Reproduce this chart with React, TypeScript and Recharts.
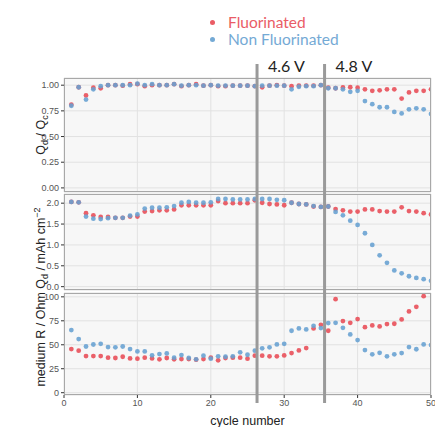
import React from "react";
import {
  ScatterChart,
  Scatter,
  XAxis,
  YAxis,
  CartesianGrid,
  ReferenceLine,
} from "recharts";

const CYCLES = [
  1, 2, 3, 4, 5, 6, 7, 8, 9, 10, 11, 12, 13, 14, 15, 16, 17, 18, 19, 20, 21, 22, 23, 24, 25,
  26, 27, 28, 29, 30, 31, 32, 33, 34, 35, 36, 37, 38, 39, 40, 41, 42, 43, 44, 45, 46, 47, 48, 49, 50,
];

// Qd / Qc
const EFF_FLUOR = [
  0.81, 0.98, 0.9, 0.975, 0.97, 1.0, 1.0, 0.995, 1.01, 1.01, 0.99, 1.0, 1.0, 1.0, 1.01, 0.99, 1.0, 1.01, 0.995, 1.0,
  0.99, 0.99, 0.995, 0.995, 0.995, 0.99, 0.98, 0.995, 1.0, 0.995, 0.99, 0.995, 0.995, 0.995, 1.0,
  0.975, 0.97, 0.978, 0.98, 0.975, 0.96, 0.945, 0.95, 0.96, 0.96, 0.87, 0.93, 0.945, 0.945, 0.96,
];
const EFF_NONFLUOR = [
  0.8, 0.98, 0.86, 0.96, 0.99, 1.0, 1.0, 1.0, 1.0, 1.015, 1.0, 1.01, 1.0, 1.0, 1.01, 0.995, 1.0, 1.0, 0.995, 1.0,
  0.995, 0.995, 0.995, 0.995, 0.995, 0.99, 0.995, 0.995, 0.995, 0.995, 0.96, 0.985, 0.99, 0.99, 1.0,
  0.97, 0.97, 0.96, 0.935, 0.945, 0.845, 0.815, 0.785, 0.785, 0.74, 0.725, 0.765, 0.775, 0.765, 0.72,
];

// Qd / mAh cm-2
const CAP_FLUOR = [
  2.03, 2.02, 1.76, 1.71, 1.67, 1.67, 1.65, 1.65, 1.68, 1.68, 1.8, 1.81, 1.83, 1.83, 1.85, 1.95, 1.95, 1.95, 1.95, 1.95,
  2.05, 2.0, 2.0, 2.0, 2.0, 2.07, 2.01, 1.98, 1.97, 1.95, 2.01, 1.98, 1.97, 1.92, 1.91,
  1.92, 1.86, 1.83, 1.8, 1.8, 1.85, 1.85, 1.81, 1.8, 1.8, 1.9, 1.81, 1.8, 1.76, 1.73,
];
const CAP_NONFLUOR = [
  2.03, 2.02, 1.68, 1.63, 1.62, 1.64, 1.65, 1.65, 1.7, 1.73, 1.87, 1.89, 1.89, 1.9, 1.93, 2.01, 2.03, 2.01, 2.01, 2.02,
  2.1, 2.1, 2.09, 2.09, 2.09, 2.1, 2.1, 2.1, 2.08, 2.07, 2.01, 1.98, 1.97, 1.93, 1.91,
  1.92, 1.79, 1.71, 1.58, 1.48, 1.28, 1.0, 0.75, 0.57, 0.39, 0.32, 0.25, 0.21, 0.18, 0.14,
];

// medium R / Ohm
const RES_FLUOR = [
  45.5, 43.8, 38.2, 38.2, 38.2, 36.5, 36.2, 37.5, 35.8, 35.5, 36.5, 35.8, 34.8, 36.2, 34.8, 35.1, 35.1, 34.5, 35.1, 36.5,
  33.8, 36.2, 36.5, 36.5, 35.5, 38.6, 38.6, 37.9, 37.9, 38.9, 41.3, 44.1, 46.5, 67, 70.8,
  64.6, 97.6, 74.7, 72.9, 76.8, 68.4, 70.2, 69.1, 71.6, 71.9, 76.4, 84.8, 89.6, 100.7, null,
];
const RES_NONFLUOR = [
  65.3, 55.9, 48.2, 50.3, 51, 47.6, 47.3, 48.2, 45.5, 43.1, 43.1, 39, 40.3, 41, 36.5, 39.2, 36.2, 34.8, 38.6, 35.5,
  37.9, 37.5, 37.9, 42.1, 39.6, 43.8, 46.3, 47.3, 50.4, 51, 64.6, 67, 66, 69.8, 67.4,
  72.6, 72.9, 67.7, 60.8, 54.9, 44.5, 40, 41.6, 37.9, 40, 41.3, 47.6, 45.3, 50.4, 49.7,
];

const X_TICKS = [0, 10, 20, 30, 40, 50];
const EFF_TICKS = [0, 0.25, 0.5, 0.75, 1];
const CAP_TICKS = [0, 0.5, 1, 1.5, 2];
const RES_TICKS = [0, 25, 50, 75, 100];

const VOLT_STEPS = [
  { cycle: 26.3, label: "4.6 V" },
  { cycle: 35.5, label: "4.8 V" },
];

const RED = "#e84b55";
const BLUE = "#66a1d1";
const FONT = "'Liberation Sans', Arial, sans-serif";
const PAD = 6; // room around each plot so edge tick labels are not clipped

const toPoints = (vals: (number | null)[]) =>
  CYCLES.map((c, i) => ({ x: c, y: vals[i] })).filter((p) => p.y !== null);

const makeDot = (color: string) => (props: any) =>
  <circle cx={props.cx} cy={props.cy} r={2.4} fill={color} fillOpacity={0.88} />;

const RedDot = makeDot(RED);
const BlueDot = makeDot(BLUE);
const NoDot = () => <g />;

interface PanelProps {
  top: number;
  plotHeight: number;
  domain: [number, number];
  ticks: number[];
  fmt: (v: number) => string;
  red: (number | null)[];
  blue: (number | null)[];
  showX?: boolean;
}

function Panel({ top, plotHeight, domain, ticks, fmt, red, blue, showX }: PanelProps) {
  const xHeight = showX ? 32 : 0;
  const bottom = showX ? 0 : PAD;
  return (
    <div style={{ position: "absolute", left: 0, top: top - PAD }}>
      <ScatterChart
        width={435}
        height={plotHeight + xHeight + PAD + bottom}
        margin={{ top: PAD, right: 4, bottom, left: 0 }}
      >
        <CartesianGrid fill="#f7f7f7" stroke="#e2e2e2" />
        <XAxis
          type="number"
          dataKey="x"
          domain={[0, 50]}
          ticks={X_TICKS}
          interval={0}
          allowDataOverflow
          hide={!showX}
          height={xHeight}
          axisLine={false}
          tickSize={3}
          tickMargin={2}
          tickLine={{ stroke: "#333" }}
          tick={{ fontSize: 9, fill: "#555", fontFamily: FONT }}
          label={{ value: "cycle number", position: "insideBottom", offset: 2, fontSize: 12.5, fill: "#222", fontFamily: FONT }}
        />
        <YAxis
          type="number"
          dataKey="y"
          domain={domain}
          ticks={ticks}
          interval={0}
          allowDataOverflow
          width={64}
          axisLine={false}
          tickSize={3}
          tickMargin={2}
          tickLine={{ stroke: "#333" }}
          tick={{ fontSize: 9, fill: "#555", fontFamily: FONT }}
          tickFormatter={fmt}
        />
        <Scatter data={toPoints(red)} shape={RedDot} isAnimationActive={false} />
        <Scatter data={toPoints(blue)} shape={BlueDot} isAnimationActive={false} />
      </ScatterChart>
      <div
        style={{
          position: "absolute",
          left: 64,
          top: PAD,
          width: 367,
          height: plotHeight,
          border: "1px solid #a8a8a8",
          boxSizing: "border-box",
          pointerEvents: "none",
        }}
      />
    </div>
  );
}

const VoltLabel = (props: any) => {
  const { viewBox, caption } = props;
  if (!viewBox) return null;
  return (
    <text x={viewBox.x + 11} y={viewBox.y + 8} fontSize={16} fill="#222" fontFamily="Lato, 'Open Sans', sans-serif">
      {caption}
    </text>
  );
};

export default function App() {
  return (
    <div style={{ position: "absolute", left: 0, top: 0, width: 435, height: 428, background: "#fff", overflow: "hidden" }}>
      {/* legend */}
      <div
        style={{
          position: "absolute",
          left: 205,
          top: 14,
          fontFamily: "Lato, 'Open Sans', sans-serif",
          fontSize: 15.5,
          lineHeight: "17px",
        }}
      >
        {[
          { name: "Fluorinated", color: RED },
          { name: "Non Fluorinated", color: BLUE },
        ].map((s) => (
          <div key={s.name} style={{ display: "flex", alignItems: "center", color: s.color, opacity: 0.9, height: 17 }}>
            <span
              style={{ display: "inline-block", width: 5, height: 5, borderRadius: 3, background: s.color, marginLeft: 5, marginRight: 13 }}
            />
            {s.name}
          </div>
        ))}
      </div>

      <Panel top={78} plotHeight={114} domain={[-0.04, 1.07]} ticks={EFF_TICKS} fmt={(v) => v.toFixed(2)} red={EFF_FLUOR} blue={EFF_NONFLUOR} />
      <Panel top={194} plotHeight={96} domain={[-0.08, 2.22]} ticks={CAP_TICKS} fmt={(v) => v.toFixed(1)} red={CAP_FLUOR} blue={CAP_NONFLUOR} />
      <Panel top={293} plotHeight={102} domain={[-2.4, 104]} ticks={RES_TICKS} fmt={(v) => String(v)} red={RES_FLUOR} blue={RES_NONFLUOR} showX />

      {/* voltage step lines spanning all panels; top margin leaves room for the labels */}
      <div style={{ position: "absolute", left: 0, top: 44 }}>
        <ScatterChart width={435} height={359} margin={{ top: 20, right: 4, bottom: 0, left: 64 }}>
          <XAxis type="number" dataKey="x" domain={[0, 50]} hide allowDataOverflow />
          <YAxis type="number" dataKey="y" domain={[0, 1]} hide />
          <Scatter
            data={VOLT_STEPS.map((v) => ({ x: v.cycle, y: 0.5 }))}
            shape={NoDot}
            isAnimationActive={false}
          />
          {VOLT_STEPS.map((v) => (
            <ReferenceLine
              key={v.label}
              x={v.cycle}
              stroke="#9a9a9a"
              strokeWidth={3}
              label={<VoltLabel caption={v.label} />}
            />
          ))}
        </ScatterChart>
      </div>

      {/* y axis titles */}
      <svg width={435} height={428} style={{ position: "absolute", left: 0, top: 0, pointerEvents: "none" }}>
        <text transform="translate(45,135) rotate(-90)" textAnchor="middle" fontSize={12.5} fill="#222" fontFamily={FONT}>
          Q<tspan fontSize={9} dy={3}>d</tspan>
          <tspan dy={-3}>{"\u00a0/ Q"}</tspan>
          <tspan fontSize={9} dy={3}>c</tspan>
        </text>
        <text transform="translate(45,297) rotate(-90)" textAnchor="middle" fontSize={12.5} fill="#222" fontFamily={FONT}>
          medium R / Ohm Q<tspan fontSize={9} dy={3}>d</tspan>
          <tspan dy={-3}>{"\u00a0/ mAh cm"}</tspan>
          <tspan fontSize={9} dy={-5}>−2</tspan>
        </text>
      </svg>
    </div>
  );
}
